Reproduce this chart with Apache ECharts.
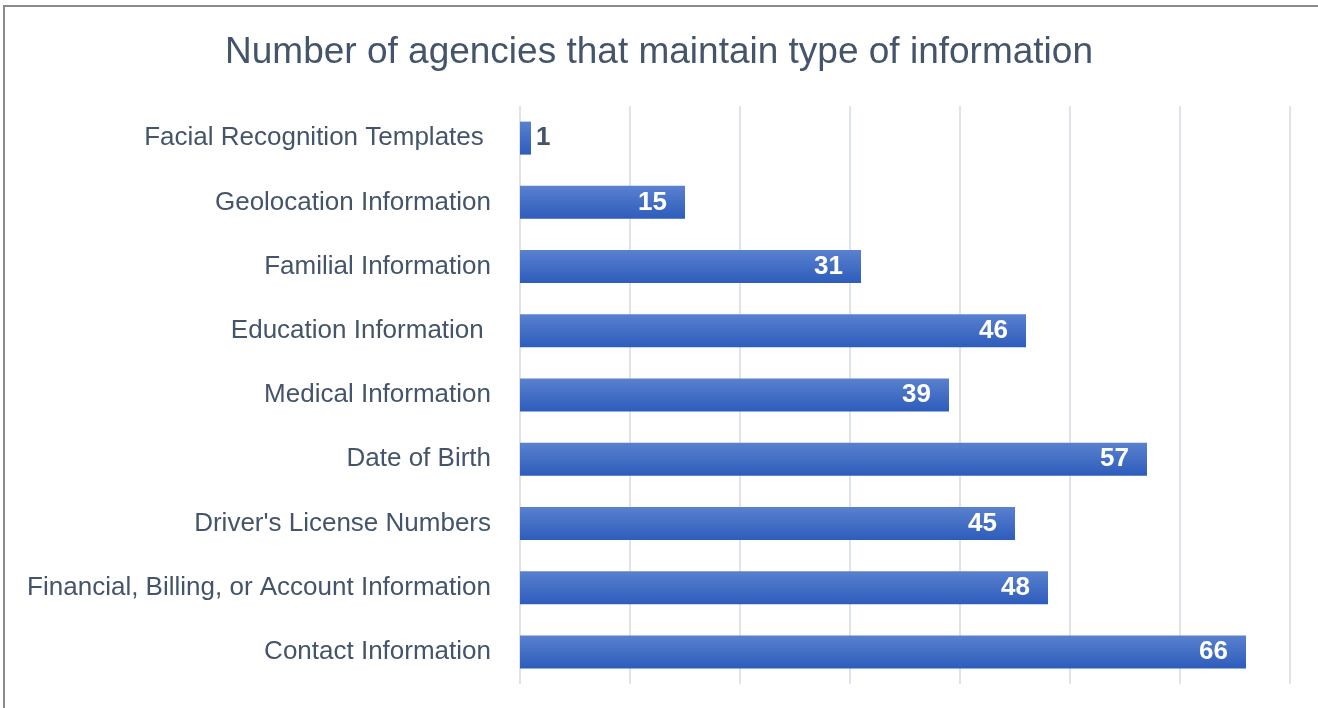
<!DOCTYPE html>
<html>
<head>
<meta charset="utf-8">
<title>Number of agencies that maintain type of information</title>
<script src="https://cdn.jsdelivr.net/npm/echarts@6/dist/echarts.min.js"></script>
<style>
  html, body { margin: 0; padding: 0; background: #fff; }
  #chart { width: 1318px; height: 708px; }
</style>
</head>
<body>
<div id="chart"></div>
<script>
// categories, top to bottom
var categories = [
  'Facial Recognition Templates ',
  'Geolocation Information',
  'Familial Information',
  'Education Information ',
  'Medical Information',
  'Date of Birth',
  "Driver's License Numbers",
  'Financial, Billing, or Account Information',
  'Contact Information'
]
var agencyCounts = [1, 15, 31, 46, 39, 57, 45, 48, 66]
var xTicks = [0, 10, 20, 30, 40, 50, 60, 70]

var textColor = '#44546a'
var fontName = 'Liberation Sans, Arial, sans-serif'

var chart = echarts.init(document.getElementById('chart'))

var barData = agencyCounts.map(function (v) {
  // very short bars get their label outside
  if (v < 5) {
    return {
      value: v,
      label: { position: 'right', distance: 5, color: textColor }
    }
  }
  return v
})

var option = {
  backgroundColor: '#fff',
  animation: false,
  title: {
    text: 'Number of agencies that maintain type of information',
    left: 'center',
    top: 29,
    textStyle: {
      color: textColor,
      fontFamily: fontName,
      fontSize: 37,
      fontWeight: 'normal'
    }
  },
  graphic: [
    {
      // outer frame, only top and left edges are in view
      type: 'rect',
      shape: { x: 4, y: 6, width: 1400, height: 800 },
      style: { fill: 'none', stroke: '#8a8a8a', lineWidth: 2 },
      silent: true
    }
  ],
  grid: {
    left: 520,
    right: 28,
    top: 106,
    bottom: 24,
    containLabel: false
  },
  xAxis: {
    type: 'value',
    min: xTicks[0],
    max: xTicks[xTicks.length - 1],
    interval: xTicks[1] - xTicks[0],
    axisLine: { show: false },
    axisTick: { show: false },
    axisLabel: { show: false },
    splitLine: {
      show: true,
      lineStyle: { color: '#dfe3ea', width: 2 }
    }
  },
  yAxis: {
    type: 'category',
    inverse: true,
    data: categories,
    axisLine: { show: false },
    axisTick: { show: false },
    axisLabel: {
      color: textColor,
      fontFamily: fontName,
      fontSize: 26,
      margin: 29
    }
  },
  series: [
    {
      type: 'bar',
      data: barData,
      barWidth: 33,
      itemStyle: {
        color: new echarts.graphic.LinearGradient(0, 0, 0, 1, [
          { offset: 0, color: '#5a81cf' },
          { offset: 1, color: '#2d5cbb' }
        ])
      },
      label: {
        show: true,
        position: 'insideRight',
        distance: 18,
        color: '#fff',
        fontFamily: fontName,
        fontSize: 26,
        fontWeight: 'bold'
      }
    }
  ]
}

chart.setOption(option)
</script>
</body>
</html>
